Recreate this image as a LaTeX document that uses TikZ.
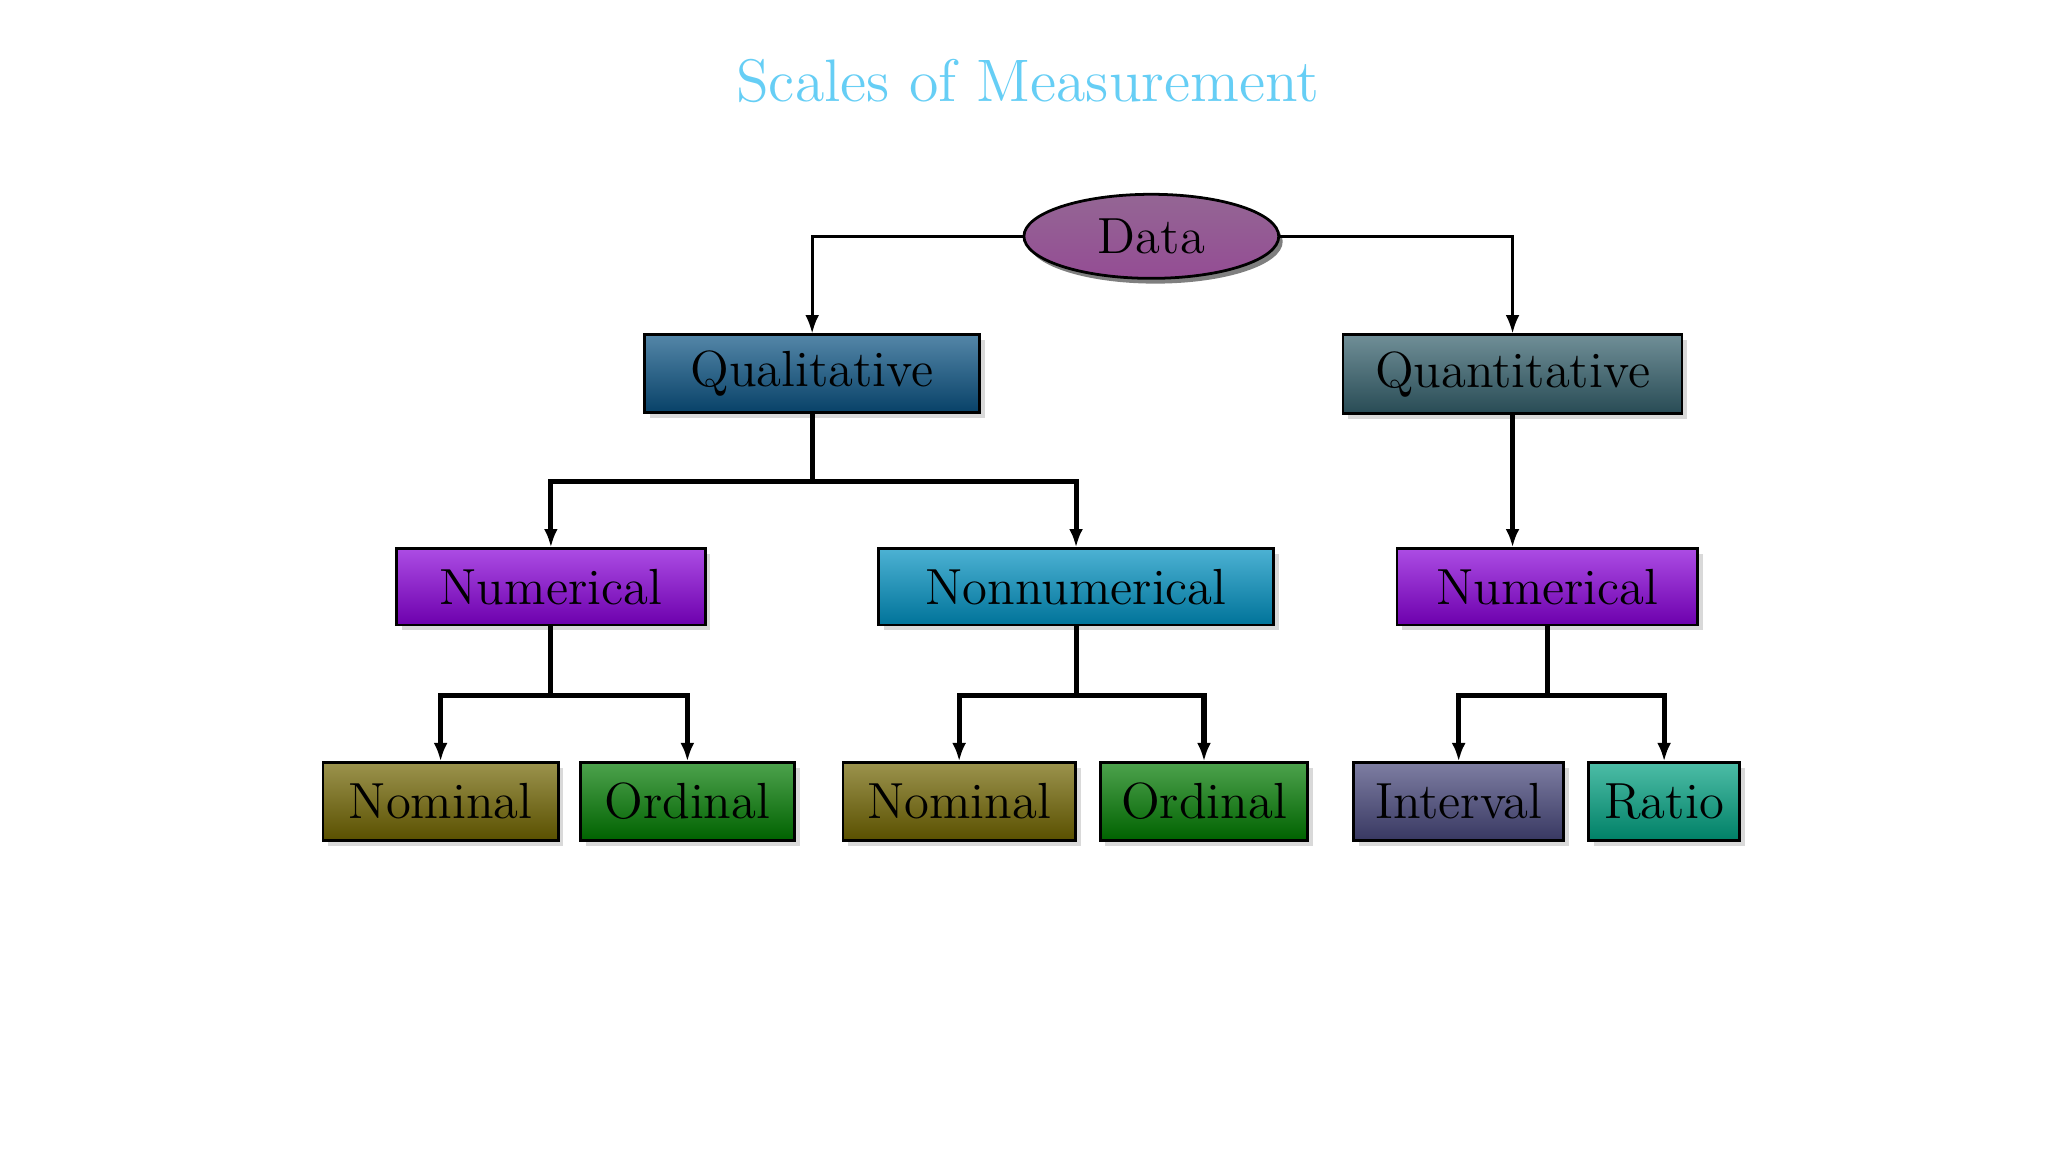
\documentclass[tikz,border=0pt]{standalone}
\usetikzlibrary{shadows,shapes.geometric,arrows.meta}
\begin{document}
\begin{tikzpicture}[x=0.01cm,y=-0.01cm,
  box/.style={draw=black,line width=0.6pt,inner sep=0pt,anchor=north west,font=\fontsize{11}{12}\selectfont,
    drop shadow={shadow xshift=0.04cm,shadow yshift=-0.04cm,fill=black!15,opacity=1}},
  conn/.style={draw=black,line width=0.6pt,-{Latex[length=4pt,width=3pt]}},
  thick conn/.style={conn,line width=1.1pt}]
\useasboundingbox (0,0) rectangle (1560,877.5);
\node[font=\fontsize{13}{14}\selectfont,text=cyan!60] (title) at (783,62) {Scales of Measurement};
\node[ellipse,draw=black,line width=0.6pt,minimum width=1.94cm,minimum height=0.64cm,inner sep=0pt,
  top color=magenta!30!black!60,bottom color=magenta!40!black!70,
  drop shadow={shadow xshift=0.03cm,shadow yshift=-0.04cm,fill=black},font=\fontsize{11}{12}\selectfont] (data) at (877,180) {Data};
\newcommand\mkbox[7]{\node[box,minimum width=#4cm,minimum height=#5cm,top color=#6!70!white,bottom color=#6!80!black] (#1) at (#2,#3) {}; \node[font=\fontsize{11}{12}\selectfont] at (#1.center) {#7};}
\definecolor{cqual}{HTML}{0A5282}
\definecolor{cquan}{HTML}{325E6A}
\definecolor{cnum}{HTML}{8800D8}
\definecolor{cnon}{HTML}{0090C0}
\definecolor{cnom}{HTML}{706400}
\definecolor{cord}{HTML}{007A00}
\definecolor{cint}{HTML}{46467A}
\definecolor{crat}{HTML}{00A080}
\mkbox{qual}{490}{254}{2.55}{0.59}{cqual}{Qualitative}
\mkbox{quan}{1022}{254}{2.58}{0.60}{cquan}{Quantitative}
\mkbox{num1}{301}{417}{2.35}{0.58}{cnum}{Numerical}
\mkbox{non}{668}{417}{3.01}{0.58}{cnon}{Nonnumerical}
\mkbox{num2}{1063}{417}{2.29}{0.58}{cnum}{Numerical}
\mkbox{nom1}{245}{580}{1.79}{0.59}{cnom}{Nominal}
\mkbox{ord1}{441}{580}{1.63}{0.59}{cord}{Ordinal}
\mkbox{nom2}{641}{580}{1.77}{0.59}{cnom}{Nominal}
\mkbox{ord2}{837}{580}{1.58}{0.59}{cord}{Ordinal}
\mkbox{int}{1030}{580}{1.60}{0.59}{cint}{Interval}
\mkbox{rat}{1209}{580}{1.15}{0.59}{crat}{Ratio}
\draw[conn] (data.west) -| (qual.north);
\draw[conn] (data.east) -| (quan.north);
\draw[thick conn] (qual.south) |- (619,367) -| (num1.north);
\draw[thick conn] (qual.south) |- (619,367) -| (non.north);
\draw[thick conn] (quan.south) -- (quan.south |- num2.north);
\draw[thick conn] (num1.south) |- (419,530) -| (nom1.north);
\draw[thick conn] (num1.south) |- (419,530) -| (ord1.north);
\draw[thick conn] (non.south) |- (820,530) -| (nom2.north);
\draw[thick conn] (non.south) |- (820,530) -| (ord2.north);
\draw[thick conn] (num2.south) |- (1179,530) -| (int.north);
\draw[thick conn] (num2.south) |- (1179,530) -| (rat.north);
\end{tikzpicture}
\end{document}
